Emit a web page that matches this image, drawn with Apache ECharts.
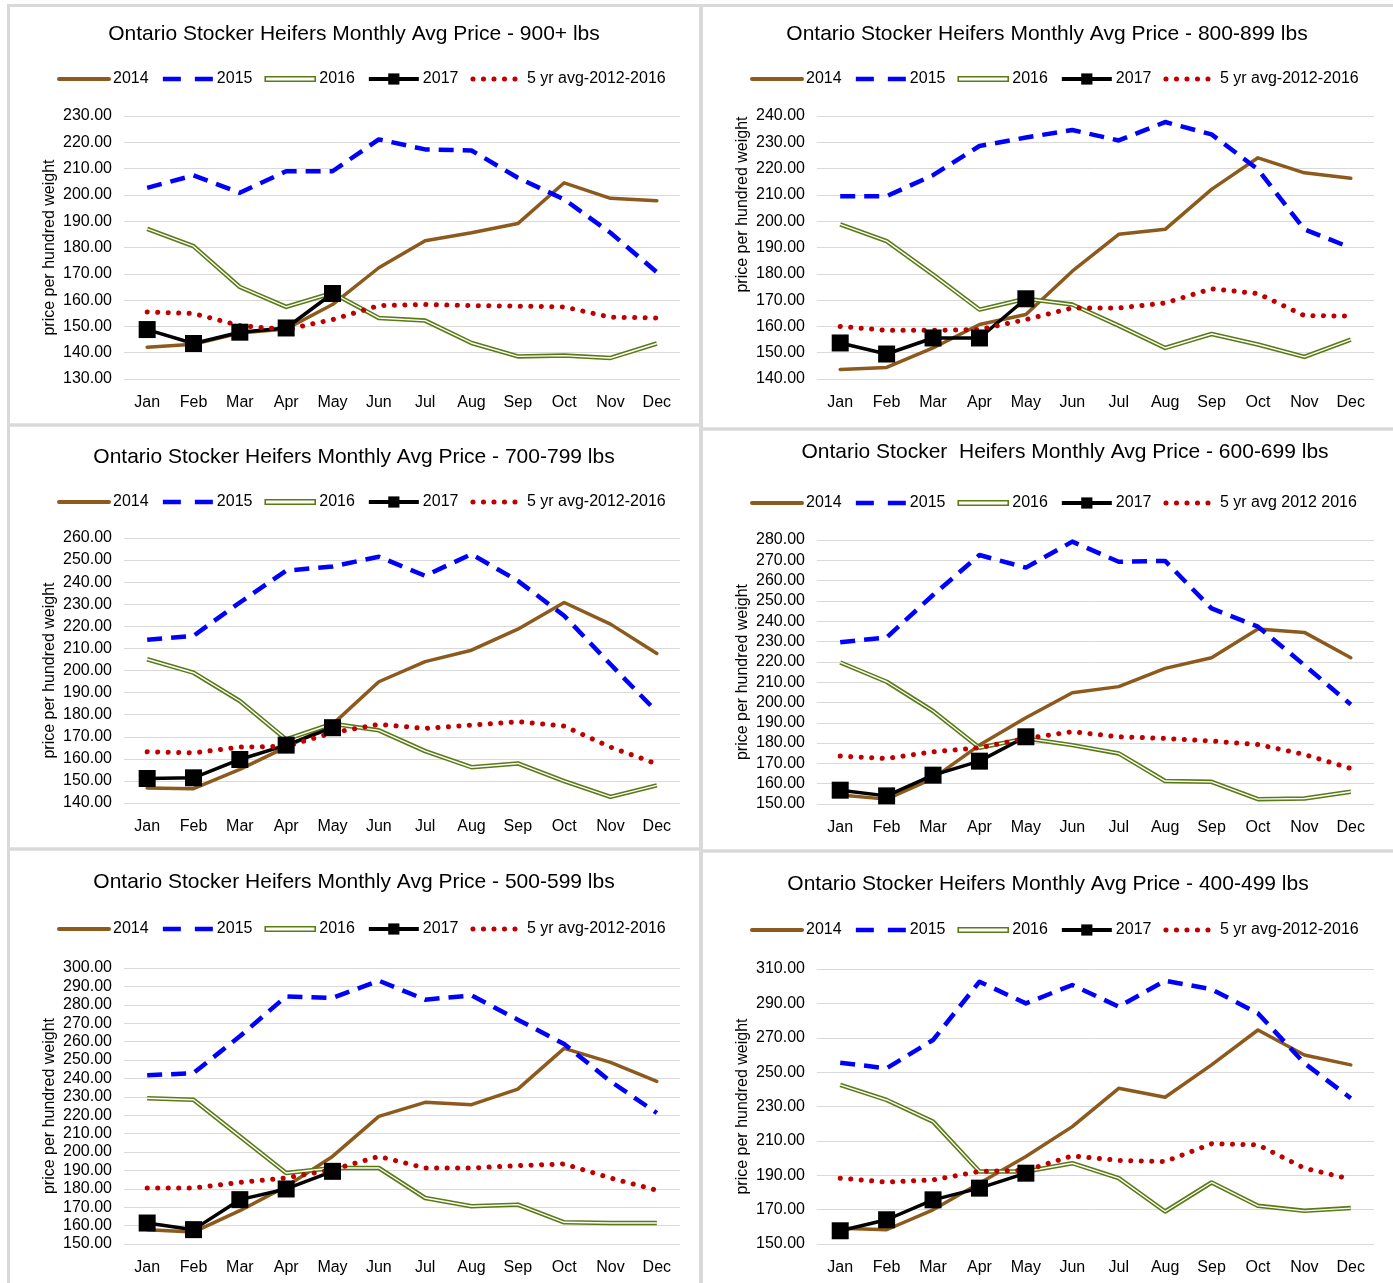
<!DOCTYPE html>
<html>
<head>
<meta charset="utf-8">
<script src="https://cdn.jsdelivr.net/npm/echarts@6/dist/echarts.min.js"></script>
<style>
html,body{margin:0;padding:0;background:#fff;}
#c{width:1393px;height:1283px;}
</style>
</head>
<body>
<div id="c"></div>
<script>
const months = ['Jan','Feb','Mar','Apr','May','Jun','Jul','Aug','Sep','Oct','Nov','Dec'];

// Panel titles
const titles = [
  'Ontario Stocker Heifers Monthly Avg Price - 900+ lbs',
  'Ontario Stocker Heifers Monthly Avg Price - 800-899 lbs',
  'Ontario Stocker Heifers Monthly Avg Price - 700-799 lbs',
  'Ontario Stocker  Heifers Monthly Avg Price - 600-699 lbs',
  'Ontario Stocker Heifers Monthly Avg Price - 500-599 lbs',
  'Ontario Stocker Heifers Monthly Avg Price - 400-499 lbs'
];
const avgNames = ['5 yr avg-2012-2016','5 yr avg-2012-2016','5 yr avg-2012-2016','5 yr avg 2012 2016','5 yr avg-2012-2016','5 yr avg-2012-2016'];

// y axis ranges [min, max, interval]
const yMin = [130, 140, 140, 150, 150, 150];
const yMax = [230, 240, 260, 280, 300, 310];
const yStep = [10, 10, 10, 10, 10, 20];

// 900+ lbs
const w900_2014 = [142.1, 143.2, 147.5, 149.0, 158.3, 172.3, 182.6, 185.6, 189.1, 204.6, 198.7, 197.8];
const w900_2015 = [202.7, 207.4, 200.8, 209.0, 209.0, 221.1, 217.3, 216.9, 206.5, 198.3, 185.6, 170.6];
const w900_2016 = [187.1, 180.5, 165.0, 157.4, 162.7, 153.2, 152.2, 143.7, 138.6, 138.9, 138.0, 143.5];
const w900_2017 = [148.8, 143.5, 147.8, 149.4, 162.5];
const w900_avg  = [155.5, 154.9, 150.3, 148.8, 152.6, 157.9, 158.3, 157.9, 157.7, 157.4, 153.5, 153.2];

// 800-899 lbs
const w800_2014 = [143.6, 144.4, 151.8, 160.7, 164.5, 181.0, 195.0, 196.9, 212.1, 224.1, 218.4, 216.3];
const w800_2015 = [209.5, 209.5, 217.5, 228.6, 231.8, 234.7, 230.7, 237.7, 233.0, 219.7, 196.9, 189.9];
const w800_2016 = [198.8, 192.4, 179.7, 166.4, 170.5, 168.3, 160.3, 151.8, 157.1, 153.1, 148.4, 155.0];
const w800_2017 = [153.7, 149.5, 155.6, 155.6, 170.5];
const w800_avg  = [160.0, 158.5, 158.5, 158.8, 162.6, 167.0, 167.0, 168.9, 174.3, 172.5, 164.1, 163.9];

// 700-799 lbs
const w700_2014 = [146.8, 146.5, 155.2, 165.3, 175.6, 194.9, 204.0, 209.2, 218.7, 230.8, 221.0, 207.7];
const w700_2015 = [213.9, 215.7, 230.8, 245.2, 247.1, 251.5, 242.9, 252.7, 240.6, 224.8, 202.8, 181.3];
const w700_2016 = [205.1, 199.0, 186.2, 168.8, 175.9, 172.9, 163.5, 156.2, 157.9, 149.9, 142.8, 148.0];
const w700_2017 = [151.1, 151.4, 159.7, 166.2, 174.1];
const w700_avg  = [163.2, 162.7, 165.3, 165.7, 171.8, 175.6, 173.8, 175.3, 176.8, 174.8, 165.3, 157.7];

// 600-699 lbs
const w600_2014 = [154.4, 152.4, 162.6, 179.0, 192.5, 204.8, 207.8, 216.8, 222.0, 236.2, 234.5, 222.0];
const w600_2015 = [229.6, 232.0, 252.9, 272.6, 266.4, 279.2, 269.3, 269.7, 246.3, 237.3, 218.4, 199.0];
const w600_2016 = [219.7, 210.2, 195.8, 177.7, 182.3, 179.0, 174.9, 161.3, 160.9, 152.4, 152.7, 156.0];
const w600_2017 = [156.8, 154.0, 164.2, 171.1, 183.1];
const w600_avg  = [173.6, 172.4, 175.7, 177.7, 182.3, 185.6, 183.1, 182.3, 181.0, 179.3, 174.4, 167.5];

// 500-599 lbs
const w500_2014 = [157.8, 156.5, 168.1, 181.3, 197.6, 219.4, 227.0, 225.7, 234.2, 256.3, 248.7, 238.4];
const w500_2015 = [241.7, 242.9, 262.9, 284.6, 283.7, 293.1, 282.8, 285.1, 271.9, 258.7, 238.4, 221.2];
const w500_2016 = [229.2, 228.4, 208.5, 188.6, 191.3, 191.3, 175.0, 170.5, 171.4, 161.8, 161.4, 161.4];
const w500_2017 = [161.4, 157.8, 174.1, 179.9, 189.5];
const w500_avg  = [180.4, 180.4, 183.5, 185.9, 190.4, 197.6, 191.3, 191.3, 192.6, 193.5, 185.9, 179.2];

// 400-499 lbs
const w400_2014 = [159.2, 158.3, 169.9, 185.4, 200.9, 218.3, 240.6, 235.4, 254.2, 274.5, 260.0, 254.2];
const w400_2015 = [255.5, 252.2, 268.7, 302.6, 290.0, 300.7, 288.1, 303.2, 298.2, 284.2, 255.2, 234.8];
const w400_2016 = [242.6, 233.8, 221.2, 192.2, 192.2, 197.0, 188.3, 168.9, 185.8, 172.2, 169.3, 170.9];
const w400_2017 = [157.7, 164.1, 175.7, 182.5, 191.2];
const w400_avg  = [188.3, 186.0, 187.3, 192.2, 192.8, 201.3, 198.6, 198.0, 208.3, 207.7, 194.1, 187.7];

const panelData = [
  [w900_2014, w900_2015, w900_2016, w900_2017, w900_avg],
  [w800_2014, w800_2015, w800_2016, w800_2017, w800_avg],
  [w700_2014, w700_2015, w700_2016, w700_2017, w700_avg],
  [w600_2014, w600_2015, w600_2016, w600_2017, w600_avg],
  [w500_2014, w500_2015, w500_2016, w500_2017, w500_avg],
  [w400_2014, w400_2015, w400_2016, w400_2017, w400_avg]
];

// ---- layout (styles/positions) ----
const BROWN = '#8c5a1c', BLUE = '#0000ff', GREEN = '#5a7a14', BLACK = '#000000', RED = '#c00000';
const SANS = "'Liberation Sans', Arial, sans-serif";

const grids = [
  {left:124, top:116, width:556, height:263},
  {left:817, top:116, width:557, height:263},
  {left:124, top:538, width:556, height:265},
  {left:817, top:540, width:557, height:264},
  {left:124, top:968, width:556, height:276},
  {left:817, top:969, width:557, height:275}
];
const titlePos = [[354,34],[1047,34],[354,457],[1065,452],[354,882],[1048,884]];
const legendPos = [[57,78],[750,78],[57,501],[750,502],[57,928],[750,929]];
const nameShift = [0, 86, 0, 0, 0, 0];

const hideSym = {opacity: 0};

const option = {
  animation: false,
  backgroundColor: '#fff',
  graphic: [
    {type:'rect', shape:{x:8.5,y:5.5,width:692,height:419.5}, style:{fill:'none',stroke:'#d9d9d9',lineWidth:3}, silent:true, z:-1},
    {type:'rect', shape:{x:8.5,y:425,width:692,height:424}, style:{fill:'none',stroke:'#d9d9d9',lineWidth:3}, silent:true, z:-1},
    {type:'rect', shape:{x:8.5,y:849,width:692,height:445}, style:{fill:'none',stroke:'#d9d9d9',lineWidth:3}, silent:true, z:-1},
    {type:'rect', shape:{x:701.5,y:5.5,width:700,height:423.5}, style:{fill:'none',stroke:'#d9d9d9',lineWidth:3}, silent:true, z:-1},
    {type:'rect', shape:{x:701.5,y:429,width:700,height:422}, style:{fill:'none',stroke:'#d9d9d9',lineWidth:3}, silent:true, z:-1},
    {type:'rect', shape:{x:701.5,y:851,width:700,height:445}, style:{fill:'none',stroke:'#d9d9d9',lineWidth:3}, silent:true, z:-1}
  ],
  title: [], legend: [], grid: [], xAxis: [], yAxis: [], series: []
};

for (let i = 0; i < 6; i++) {
  const g = grids[i];
  option.grid.push(Object.assign({}, g));
  option.title.push({
    text: titles[i], left: titlePos[i][0], top: titlePos[i][1] - 10, textAlign: 'center', padding: 0,
    textStyle: {fontFamily: SANS, fontSize: 21, fontWeight: 'normal', color: '#000'}
  });
  option.legend.push({
    left: legendPos[i][0], top: legendPos[i][1] - 7, padding: 0,
    itemWidth: 50, itemHeight: 14, itemGap: 12,
    textStyle: {fontFamily: SANS, fontSize: 16, color: '#000', padding: [0, 0, 0, -1]},
    data: [
      {name: '2014', itemStyle: hideSym, lineStyle: {width: 4, color: BROWN}},
      {name: '2015', itemStyle: hideSym, lineStyle: {width: 4.5, color: BLUE, type: [18, 14], cap: 'butt'}},
      {name: '2016', icon: 'path://M0,0H100V9H0Z', itemStyle: {color: '#fff', borderColor: GREEN, borderWidth: 1.6}},
      {name: '2017', lineStyle: {width: 4, color: BLACK}},
      {name: avgNames[i], itemStyle: hideSym, lineStyle: {width: 5, color: RED, type: [0.1, 10.4], cap: 'round'}}
    ]
  });
  option.xAxis.push({
    type: 'category', gridIndex: i, data: months, boundaryGap: true,
    axisLine: {show: false}, axisTick: {show: false},
    axisLabel: {fontFamily: SANS, fontSize: 16, color: '#000', margin: 16}
  });
  option.yAxis.push({
    type: 'value', gridIndex: i, min: yMin[i], max: yMax[i], interval: yStep[i],
    name: 'price per hundred weight', nameLocation: 'middle', nameGap: 66,
    nameTextStyle: {fontFamily: SANS, fontSize: 16, color: '#000', padding: [0, 0, 0, nameShift[i]]},
    axisLine: {show: false}, axisTick: {show: false},
    splitLine: {lineStyle: {color: '#d9d9d9', width: 1}},
    axisLabel: {fontFamily: SANS, fontSize: 16, color: '#000', margin: 12,
      formatter: v => v.toFixed(2)}
  });
  const d = panelData[i];
  const base = {type: 'line', xAxisIndex: i, yAxisIndex: i, symbol: 'none', silent: true};
  option.series.push(Object.assign({}, base, {name: '2014', data: d[0],
    lineStyle: {color: BROWN, width: 3.5, join: 'round', cap: 'round'}, itemStyle: {color: BROWN}}));
  option.series.push(Object.assign({}, base, {name: '2015', data: d[1],
    lineStyle: {color: BLUE, width: 4.5, type: [15, 9], cap: 'butt', join: 'round'}, itemStyle: {color: BLUE}}));
  option.series.push(Object.assign({}, base, {name: '2016', data: d[2],
    lineStyle: {color: GREEN, width: 4.5, join: 'round'}, itemStyle: {color: GREEN}}));
  option.series.push(Object.assign({}, base, {name: '2016 inner', data: d[2],
    lineStyle: {color: '#ffffff', width: 1.4, join: 'round'}, itemStyle: {color: '#fff'}}));
  option.series.push(Object.assign({}, base, {name: '2017', data: d[3], symbol: 'rect', symbolSize: 17,
    lineStyle: {color: BLACK, width: 3.5, join: 'round'}, itemStyle: {color: BLACK}}));
  option.series.push(Object.assign({}, base, {name: avgNames[i], data: d[4],
    lineStyle: {color: RED, width: 5, type: [0.1, 10.4], cap: 'round', join: 'round'}, itemStyle: {color: RED}}));
}

const chart = echarts.init(document.getElementById('c'), null, {renderer: 'canvas'});
chart.setOption(option);
</script>
</body>
</html>
